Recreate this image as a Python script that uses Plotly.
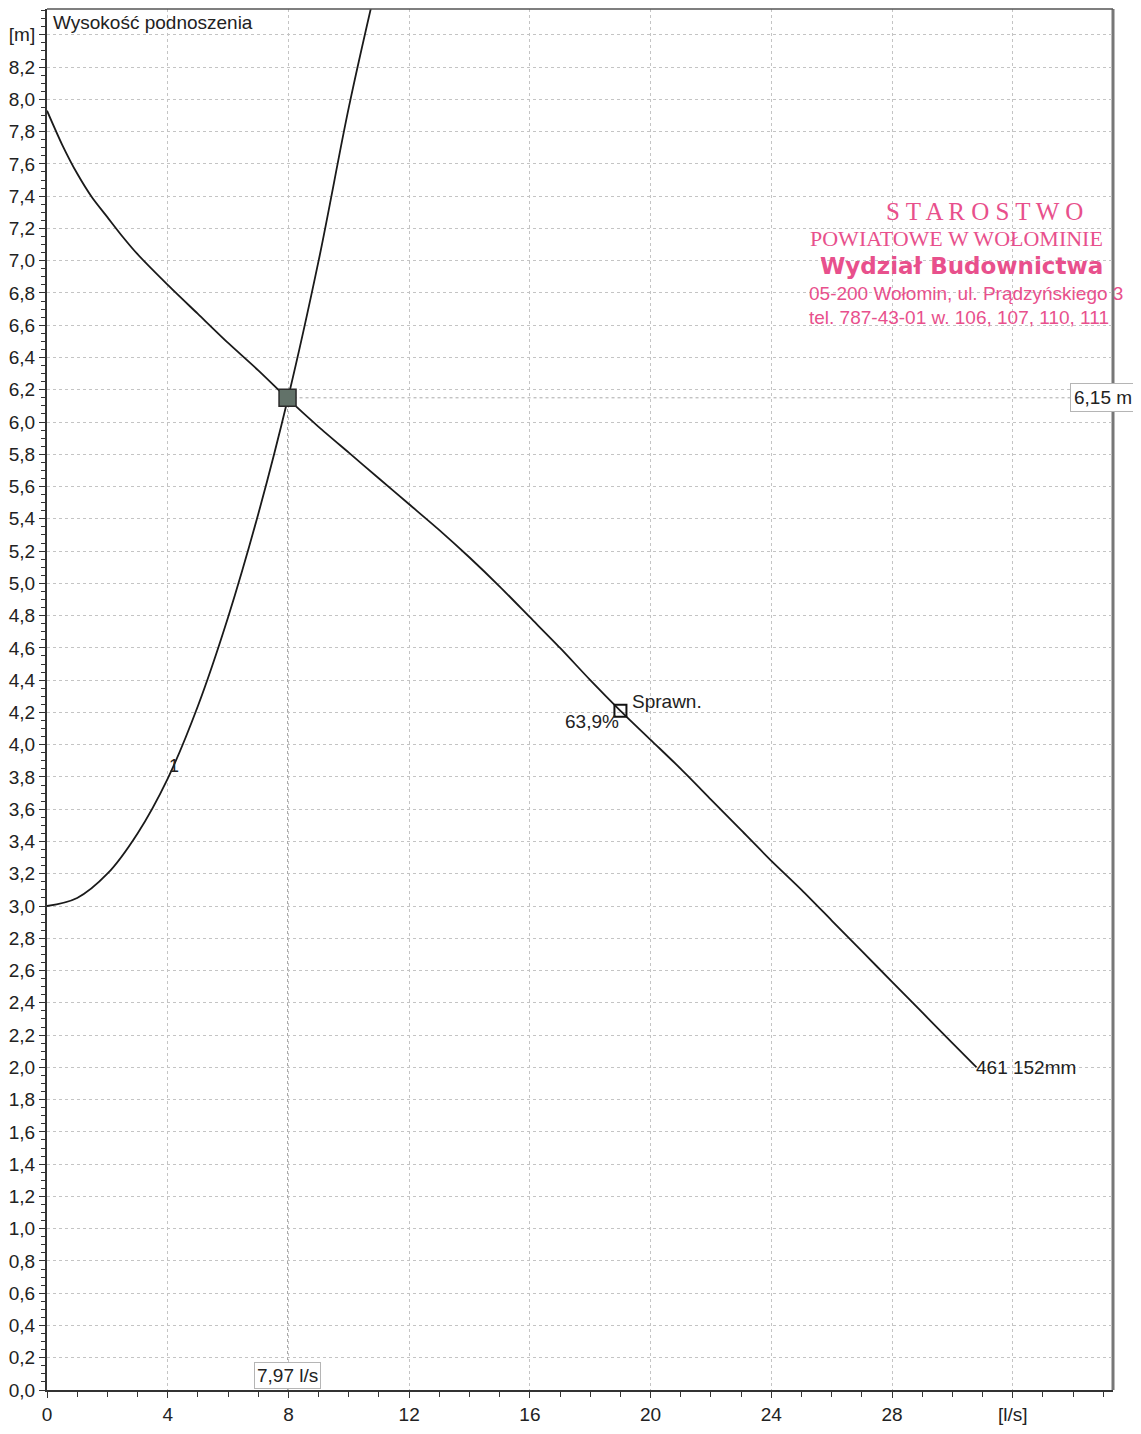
import plotly.graph_objects as go

# ---- data ----
pump_q = [0, 0.5, 1, 1.5, 2, 2.5, 3, 4, 5, 6, 7, 8, 9, 10, 11, 12, 13, 14, 15, 16, 17, 18, 19,
          20, 21, 22, 23, 24, 25, 26, 27, 28, 29, 30, 30.8]
pump_h = [7.93, 7.72, 7.54, 7.39, 7.27, 7.15, 7.04, 6.85, 6.67, 6.49, 6.32, 6.14, 5.97, 5.81,
          5.65, 5.49, 5.33, 5.16, 4.98, 4.79, 4.60, 4.40, 4.21, 4.03, 3.85, 3.66, 3.47,
          3.28, 3.10, 2.91, 2.72, 2.53, 2.34, 2.15, 2.00]
sys_q = [0, 1, 2, 3, 4, 5, 6, 7, 8, 9, 10, 10.8]
sys_h = [3.00, 3.05, 3.20, 3.45, 3.79, 4.24, 4.79, 5.43, 6.16, 7.00, 7.95, 8.62]

op_q = [7.97]
op_h = [6.15]
eff_q = [19.0]
eff_h = [4.21]

x_tickvals = [0, 4, 8, 12, 16, 20, 24, 28, 32]
x_ticktext = ["0", "4", "8", "12", "16", "20", "24", "28", "[l/s]"]
y_tickvals = [round(i * 0.2, 1) for i in range(43)]
y_ticktext = [f"{v:.1f}".replace(".", ",") for v in y_tickvals[:-1]] + ["[m]"]

FONT = "Liberation Sans, Arial, sans-serif"
STAMP = "#e8508c"
TXT = "#222"
FS = 19

X_MAX = 35.32
Y_MAX = 8.56

fig = go.Figure()

# dotted guide lines from operating point
fig.add_trace(go.Scatter(x=[op_q[0], X_MAX], y=[op_h[0], op_h[0]], mode="lines",
                         line=dict(color="#a8a8a8", width=1, dash="dot"),
                         hoverinfo="skip", showlegend=False))
fig.add_trace(go.Scatter(x=[op_q[0], op_q[0]], y=[0, op_h[0]], mode="lines",
                         line=dict(color="#a8a8a8", width=1, dash="dot"),
                         hoverinfo="skip", showlegend=False))

fig.add_trace(go.Scatter(x=pump_q, y=pump_h, mode="lines", line=dict(color="#1a1a1a", width=1.8),
                         line_shape="spline", line_smoothing=0.7, showlegend=False))
fig.add_trace(go.Scatter(x=sys_q, y=sys_h, mode="lines", line=dict(color="#1a1a1a", width=1.8),
                         line_shape="spline", showlegend=False))
fig.add_trace(go.Scatter(x=op_q, y=op_h, mode="markers",
                         marker=dict(symbol="square", size=17, color="#627269",
                                     line=dict(color="#2a2a2a", width=1.5)),
                         showlegend=False))
fig.add_trace(go.Scatter(x=eff_q, y=eff_h, mode="markers",
                         marker=dict(symbol="square-open", size=12, color="#111",
                                     line=dict(color="#111", width=2)),
                         showlegend=False))

ann = []
ann.append(dict(xref="paper", yref="paper", x=0.004, y=0.999, xanchor="left", yanchor="top",
                text="Wysokość podnoszenia", showarrow=False, font=dict(size=FS, color=TXT)))
ann.append(dict(x=eff_q[0], y=eff_h[0], xanchor="left", yanchor="middle", xshift=10, yshift=9,
                text="Sprawn.", showarrow=False, font=dict(size=FS, color=TXT)))
ann.append(dict(x=eff_q[0], y=eff_h[0], xanchor="right", yanchor="middle", xshift=1, yshift=-11,
                text="63,9%", showarrow=False, font=dict(size=FS, color=TXT)))
ann.append(dict(x=pump_q[-1], y=pump_h[-1], xanchor="left", yanchor="middle", xshift=-3, yshift=0,
                text="461 152mm", showarrow=False, font=dict(size=FS, color=TXT)))
ann.append(dict(x=4.22, y=3.87, xanchor="center", yanchor="middle",
                text="1", showarrow=False, font=dict(size=18, color=TXT)))
ann.append(dict(x=op_q[0], y=0, xanchor="center", yanchor="bottom", yshift=1,
                text="7,97 l/s", showarrow=False, font=dict(size=FS, color=TXT),
                bgcolor="white", bordercolor="#b5b5b5", borderwidth=1, borderpad=2))
ann.append(dict(x=33.9, y=op_h[0], xanchor="left", yanchor="middle",
                text="6,15 m", showarrow=False, font=dict(size=FS, color=TXT),
                bgcolor="white", bordercolor="#b5b5b5", borderwidth=1, borderpad=3))

# stamp (positions given in page pixels of the reference, converted to paper coords)
def px(xp):
    return (xp - 42) / (1113 - 42)
def py(yp):
    return (1390 - yp) / (1390 - 9)

SERIF = "Liberation Serif, Times New Roman, serif"
ann.append(dict(xref="paper", yref="paper", x=px(984), y=py(211), xanchor="center", yanchor="middle",
                text="S T A R O S T W O", showarrow=False, borderpad=0,
                font=dict(size=25, color=STAMP, family=SERIF)))
ann.append(dict(xref="paper", yref="paper", x=px(808), y=py(239), xanchor="left", yanchor="middle",
                text="POWIATOWE W WOŁOMINIE", showarrow=False, borderpad=0,
                font=dict(size=22, color=STAMP, family=SERIF)))
ann.append(dict(xref="paper", yref="paper", x=px(818), y=py(266), xanchor="left", yanchor="middle",
                text="<b>Wydział Budownictwa</b>", showarrow=False, borderpad=0,
                font=dict(size=23, color=STAMP, family="DejaVu Sans, sans-serif")))
ann.append(dict(xref="paper", yref="paper", x=px(807), y=py(293), xanchor="left", yanchor="middle",
                text="05-200 Wołomin, ul. Prądzyńskiego 3", showarrow=False, borderpad=0,
                font=dict(size=19, color=STAMP, family=FONT)))
ann.append(dict(xref="paper", yref="paper", x=px(807), y=py(318), xanchor="left", yanchor="middle",
                text="tel. 787-43-01 w. 106, 107, 110, 111", showarrow=False, borderpad=0,
                font=dict(size=19, color=STAMP, family=FONT)))

fig.update_layout(
    width=1133, height=1426,
    margin=dict(l=34, r=28, t=1, b=44),
    paper_bgcolor="white", plot_bgcolor="white",
    font=dict(family=FONT, size=FS, color=TXT),
    annotations=ann,
    showlegend=False,
)
fig.update_xaxes(range=[0, X_MAX], tickmode="array", tickvals=x_tickvals, ticktext=x_ticktext,
                 ticks="outside", ticklen=6, tickcolor="#333",
                 showgrid=True, gridcolor="#c4c4c4", griddash="dot", gridwidth=1,
                 showline=True, linecolor="#333", linewidth=2, mirror=False, zeroline=False,
                 minor=dict(dtick=1, tick0=0, ticks="outside", ticklen=5, tickcolor="#333", showgrid=False),
                 tickfont=dict(size=FS))
fig.update_yaxes(range=[0, Y_MAX], tickmode="array", tickvals=y_tickvals, ticktext=y_ticktext,
                 ticks="outside", ticklen=6, tickcolor="#333",
                 showgrid=True, gridcolor="#c4c4c4", griddash="dot", gridwidth=1,
                 showline=True, linecolor="#333", linewidth=2, mirror=False, zeroline=False,
                 minor=dict(dtick=0.05, tick0=0, ticks="outside", ticklen=4, tickcolor="#333", showgrid=False),
                 tickfont=dict(size=FS))

# frame top and right
fig.add_shape(type="line", xref="paper", yref="paper", x0=0, x1=1, y0=1, y1=1,
              line=dict(color="#555", width=1.5))
fig.add_shape(type="line", xref="paper", yref="paper", x0=1, x1=1, y0=0, y1=1,
              line=dict(color="#777", width=3), layer="below")

fig.write_html("out.html")
